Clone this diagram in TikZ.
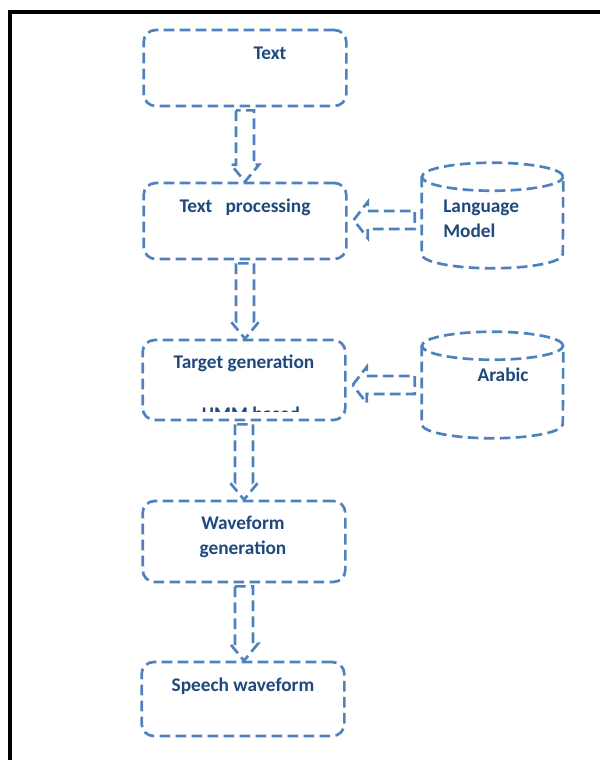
\documentclass[tikz,border=0pt]{standalone}
\usepackage{fontspec}
\setmainfont{Carlito}
\usetikzlibrary{calc}
\definecolor{lineblue}{HTML}{4F81BD}
\definecolor{textblue}{HTML}{1F497D}
\tikzset{
  dashline/.style={draw=lineblue, line width=2pt, dash pattern=on 8pt off 4pt},
  stepbox/.style={dashline, rounded corners=9pt, minimum width=152pt},
  dbase/.style={inner sep=0pt, minimum width=105.75pt},
  lbl/.style={text=textblue, font=\fontsize{14.5}{18.75}\selectfont\bfseries, align=center, inner sep=0pt},
}
% hollow block arrows
\newcommand\downblk[2]{%
  \draw[dashline] ($(#1.south)+(-9,3)$) -- ($(#1.south |- #2.north)+(-9,-17)$)
    -- ($(#1.south |- #2.north)+(-14,-17)$) -- (#1.south |- #2.north)
    -- ($(#1.south |- #2.north)+(14,-17)$) -- ($(#1.south |- #2.north)+(9,-17)$)
    -- ($(#1.south)+(9,3)$) -- cycle;}
\newcommand\leftblk[3]{%
  \draw[dashline] ($(#2.east)+(6,#3)$) -- ++(14,-18) -- ++(0,9)
    -- ($(#1.west |- #2.east)+(-7,#3-9)$) -- ++(0,18)
    -- ($(#2.east)+(20,#3+9)$) -- ++(0,9) -- cycle;}
% database drum round a node
\newcommand\dbcyl[1]{%
  \draw[dashline] ($(#1.north)+(0,14)$) ellipse [x radius=52.9pt, y radius=10.5pt];
  \draw[dashline] ($(#1.north west)+(0,14)$) -- ($(#1.south west)+(0,-14)$)
    arc [start angle=180, end angle=360, x radius=52.9pt, y radius=10.5pt]
    -- ($(#1.north east)+(0,14)$);}

\begin{document}
\begin{tikzpicture}[x=0.75pt,y=-0.75pt]
	%%%%% START %%%%%
	\useasboundingbox (0,0) rectangle (600,760);
	
	\draw[line width=3pt] (9.5,760) -- (9.5,11.5) -- (600,11.5);
	
	\node[stepbox, minimum height=57pt] (text) at (245,68) {};
	\node[lbl] (textlbl) at (270,53) {Text};
	
	\node[stepbox, minimum height=57pt] (proc) at (245,221) {};
	\node[lbl] (proclbl) at (245,207) {Text\ \ \ processing};
	
	\node[stepbox, minimum height=60pt] (target) at (244,380) {};
	\node[lbl] (targetlbl) at (244,363) {Target generation};
	\begin{scope}
		\clip (150,395) rectangle (340,411);
		\node[lbl, anchor=base] (hmm) at (251,420) {HMM based};
	\end{scope}
	
	\node[stepbox, minimum height=60.75pt] (wave) at (244,541.5) {};
	\node[lbl] (wavelbl) at (243,536.5) {Waveform\\generation};
	
	\node[stepbox, minimum height=55.5pt] (speech) at (243,699) {};
	\node[lbl] (speechlbl) at (243,686) {Speech waveform};
	
	\node[dbase, minimum height=78.75pt] (lm) at (492.5,215.5) {};
	\dbcyl{lm}
	\node[lbl, align=left, anchor=west] (lmlbl) at (443,219) {Language\\Model};
	
	\node[dbase, minimum height=79.5pt] (arabic) at (492.5,385) {};
	\dbcyl{arabic}
	\node[lbl] (arabiclbl) at (503,375) {Arabic};
	
	\downblk{text}{proc}
	\downblk{proc}{target}
	\downblk{target}{wave}
	\downblk{wave}{speech}
	
	\leftblk{lm}{proc}{-1}
	\leftblk{arabic}{target}{5}
	
	%%%%% END %%%%%
\end{tikzpicture}
\end{document}
